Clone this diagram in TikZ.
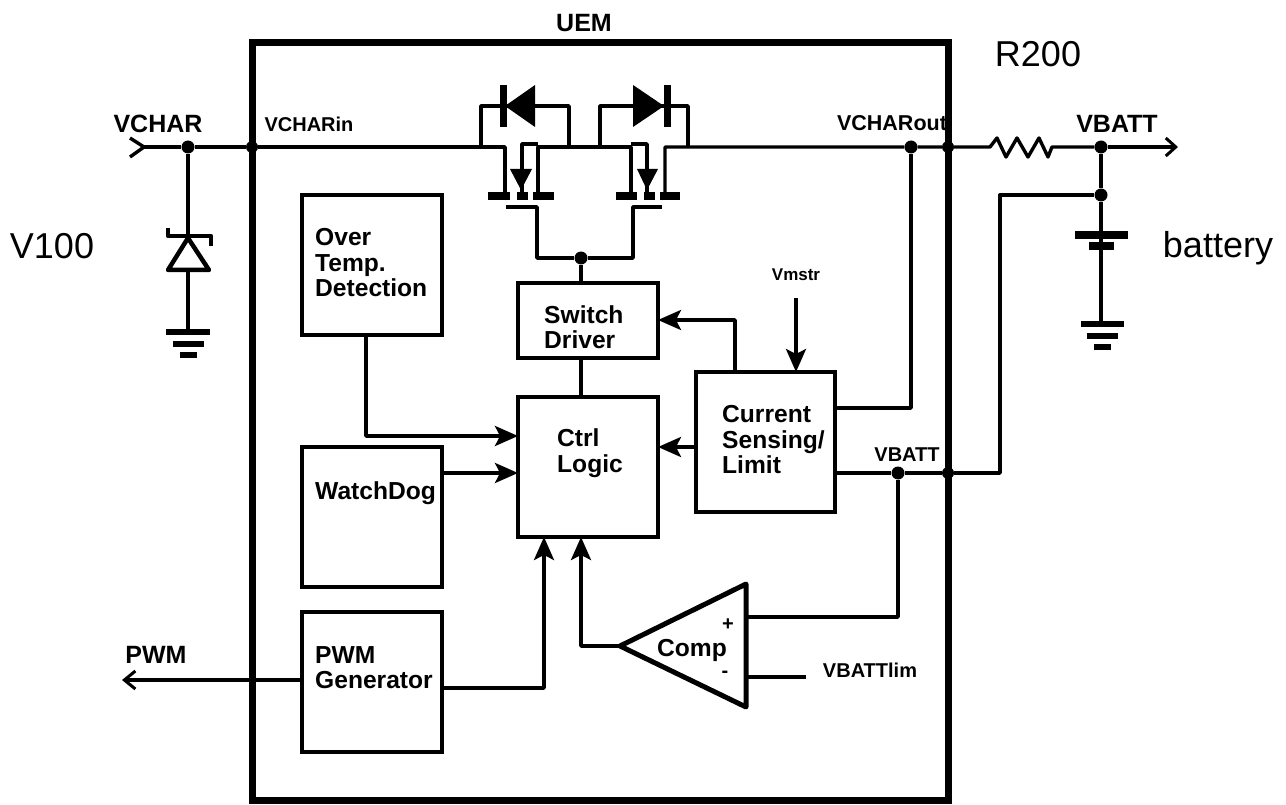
\documentclass[tikz,border=0pt]{standalone}
\usepackage{fontspec}
\setmainfont{Liberation Sans}
\usetikzlibrary{arrows.meta}

\tikzset{
	wire/.style={line width=3.4pt,line join=round},
	sig/.style={wire,-{Stealth[length=23pt,width=20pt,inset=5pt]}},
	open/.style={wire,-{Straight Barb[length=10pt,width=18pt,line width=3pt]}},
	block/.style={draw,line width=4pt,anchor=north west,inner sep=0pt,outer sep=0pt},
	plate/.style={fill,draw=none,inner sep=0pt,outer sep=0pt,minimum height=#1},
	plate/.default=8pt,
	dot/.style={circle,fill,inner sep=0pt,minimum size=13pt},
	lab/.style={font=\bfseries\fontsize{24.6}{25.5}\selectfont,align=left,inner sep=0pt},
	pin/.style={font=\bfseries\fontsize{20}{22}\selectfont,inner sep=0pt},
	head/.style={font=\bfseries\fontsize{25}{27}\selectfont,inner sep=0pt},
	big/.style={font=\fontsize{36}{40}\selectfont,inner sep=0pt},
}

\begin{document}
\begin{tikzpicture}[x=1pt,y=-1pt]
	\useasboundingbox (0,0) rectangle (1286,805);

	% chip outline and blocks
	\node[block,line width=7pt,minimum width=696pt,minimum height=757pt] (uem) at (252,43) {};
	\node[block,minimum width=140pt,minimum height=140pt] (temp) at (302,195) {};
	\node[block,minimum width=140pt,minimum height=140pt] (dog) at (302,447) {};
	\node[block,minimum width=140pt,minimum height=140pt] (gen) at (302,612) {};
	\node[block,minimum width=140pt,minimum height=75pt] (drv) at (518,283) {};
	\node[block,minimum width=140pt,minimum height=140pt] (ctrl) at (518,397) {};
	\node[block,minimum width=139pt,minimum height=140pt] (sense) at (696,372) {};

	\node[lab,anchor=west] (ltemp) at (315,263) {Over\\Temp.\\Detection};
	\node[lab,anchor=west] (ldog) at (315,493) {WatchDog};
	\node[lab,anchor=west] (lgen) at (315,667.5) {PWM\\Generator};
	\node[lab,anchor=west] (ldrv) at (544,327) {Switch\\Driver};
	\node[lab,anchor=west] (lctrl) at (557,453) {Ctrl\\Logic};
	\node[lab,anchor=west] (lsense) at (722,440) {Current\\Sensing/\\Limit};

	% comparator
	\coordinate (cmp) at (620,646);
	\coordinate (cmpp) at (748,617);
	\coordinate (cmpm) at (748,677);
	\draw[wire,line width=5pt] (cmp) -- (746,584) -- (746,707) -- cycle;
	\node[lab] (lcmp) at (692,650) {Comp};
	\node[pin] (lplus) at (728,625) {+};
	\node[pin] (lminus) at (725,674) {-};

	% named points on the wires
	\node[dot] (nchar) at (188,147) {};
	\node[dot,minimum size=12pt] (nin) at (252,147) {};
	\node[dot] (nout) at (911,147) {};
	\node[dot,minimum size=12pt] (nedge) at (948,147) {};
	\node[dot] (nbat) at (1101,147) {};
	\node[dot] (nfb) at (1101,195) {};
	\node[dot,minimum size=12pt] (nsns) at (948,473) {};
	\node[dot] (nvb) at (898,473) {};
	\node[dot] (ngate) at (581,258) {};
	\coordinate (vin) at (144,147);
	\coordinate (vout) at (1178,147);
	\coordinate (pwm) at (122,680);
	\coordinate (vlim) at (806,677);
	\coordinate (vm) at (796,298);

	% supply path and switches
	\draw[wire] (130,138) -- (vin) -- (130,157);
	\draw[wire] (vin) -- (nchar) -- (nin) -- (505,147) -- (505,196);
	\draw[wire] (481,147) -- (481,106) -- (569,106) -- (569,147);
	\draw[wire] (538,196) -- (538,147) -- (631,147) -- (631,196);
	\draw[wire] (522,196) -- (522,144) -- (538,144);
	\draw[wire] (600,147) -- (600,106) -- (688,106) -- (688,147);
	\draw[wire] (647,196) -- (647,144) -- (631,144);
	\draw[wire] (665,196) -- (665,147) -- (nout) -- (nedge) -- (990,147)
		-- (997,138) -- (1006,157) -- (1017,138) -- (1028,157) -- (1039,138) -- (1048,157) -- (1052,147) -- (nbat);
	\draw[open] (nbat) -- (vout);

	\fill (535,85) -- (535,127) -- (505,106) -- cycle;
	\fill (633,85) -- (633,127) -- (664,106) -- cycle;
	\node[plate=42pt,minimum width=7pt] (dl) at (503,106) {};
	\node[plate=42pt,minimum width=7pt] (dr) at (667,106) {};
	\fill (510,169) -- (532,169) -- (521,190) -- cycle;
	\fill (637,169) -- (658,169) -- (647,190) -- cycle;
	\foreach \px/\pw in {499/22,522/11,543/21,626/21,649/11,670/20}
		\node[plate,minimum width=\pw pt] at (\px,196) {};
	\draw[wire] (506,207) -- (537,207) -- (537,258) -- (ngate) -- (633,258) -- (633,207) -- (662,207);
	\draw[wire] (ngate) -- (drv.north -| ngate);
	\draw[wire] (drv.south -| ngate) -- (ctrl.north -| ngate);

	% zener and battery
	\draw[wire] (nchar) -- (188,332);
	\draw[wire,line width=4.5pt,fill=white] (188,238) -- (168,270) -- (209,270) -- cycle;
	\draw[wire,line width=4.5pt] (168,228) -- (168,236) -- (211,236) -- (211,246);
	\foreach \gy/\gw in {332/44,344/31,355/17}
		\node[plate=6pt,minimum width=\gw pt] at (188,\gy) {};
	\draw[wire] (nbat) -- (nfb) -- (1101,324);
	\node[plate,minimum width=53pt] at (1101,235.5) {};
	\node[plate,minimum width=25pt] at (1101,246) {};
	\foreach \gy/\gw in {324/43,336/31,347/17}
		\node[plate=6pt,minimum width=\gw pt] at (1102,\gy) {};

	% control signals
	\draw[sig] (temp.south -| 366,0) |- (ctrl.west |- 0,436);
	\draw[sig] (440,473) -- (ctrl.west |- 0,473);
	\draw[sig] (gen.east |- 0,688) -| (ctrl.south -| 544,0);
	\draw[sig] (cmp) -| (ctrl.south -| 581,0);
	\draw[sig] (sense.west |- 0,447) -- (ctrl.east |- 0,447);
	\draw[sig] (sense.north -| 735,0) |- (drv.east |- 0,320);
	\draw[sig] (vm) -- (sense.north -| vm);
	\draw[wire] (sense.east |- 0,408) -| (nout);
	\draw[wire] (sense.east |- 0,473) -- (nvb) -- (nsns) -- (1000,473) |- (nfb);
	\draw[wire] (nvb) |- (cmpp);
	\draw[wire] (cmpm) -- (vlim);
	\draw[wire,-{Straight Barb[length=11pt,width=18pt,line width=3pt]}] (gen.west |- 0,680) -- (pwm);

	% labels
	\node[head] (luem) at (584,23) {UEM};
	\node[big] (lr) at (1038,54) {R200};
	\node[big] (lv) at (52,246) {V100};
	\node[big] (lbat) at (1218,248) {battery};
	\node[head] (lchar) at (158,124) {VCHAR};
	\node[head] (lbatt) at (1117,124) {VBATT};
	\node[head] (lpwm) at (156,655) {PWM};
	\node[pin] (lin) at (309,124) {VCHARin};
	\node[pin,font=\bfseries\fontsize{21.5}{22}\selectfont] (lout) at (892,123) {VCHARout};
	\node[pin] (lsb) at (907,455) {VBATT};
	\node[pin,font=\bfseries\fontsize{17}{20}\selectfont] (lm) at (796,275) {Vmstr};
	\node[pin] (llim) at (870,670) {VBATTlim};
\end{tikzpicture}
\end{document}
